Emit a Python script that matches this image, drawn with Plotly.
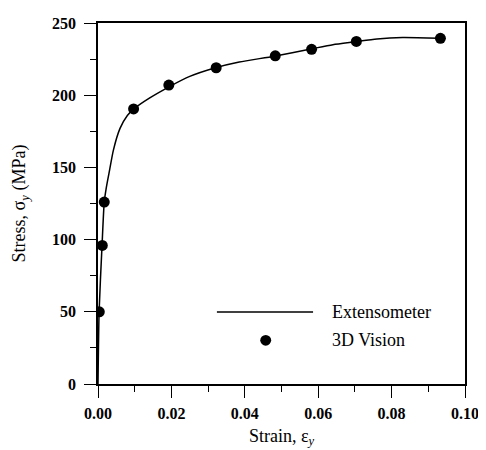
import plotly.graph_objects as go

# Extensometer curve
ext_strain = [0.0, 0.0003, 0.0011, 0.0017, 0.0022, 0.0030, 0.0042, 0.0060, 0.0080,
              0.0100, 0.0140, 0.0195, 0.0250, 0.0320, 0.0385, 0.0480, 0.0580,
              0.0640, 0.0700, 0.0760, 0.0830, 0.0930]
ext_stress = [0, 50, 96, 126, 135, 146, 162, 177, 186,
              191, 198, 206, 213, 219, 223, 227, 232,
              235, 237, 239, 240, 239.5]

# 3D Vision points
vis_strain = [0.00035, 0.00117, 0.0017, 0.0097, 0.0193, 0.0322, 0.0483, 0.0582, 0.0704, 0.0933]
vis_stress = [50, 96, 126, 190.5, 207, 219, 227.3, 231.8, 237.2, 239.4]

x_ticks = [0.00, 0.02, 0.04, 0.06, 0.08, 0.10]
x_ticklabels = ["0.00", "0.02", "0.04", "0.06", "0.08", "0.10"]
y_ticks = [0, 50, 100, 150, 200, 250]
y_ticklabels = ["0", "50", "100", "150", "200", "250"]

SERIF = "Liberation Serif, Times New Roman, serif"

fig = go.Figure()
fig.add_trace(go.Scatter(x=ext_strain, y=ext_stress, mode="lines", name="Extensometer",
                         line=dict(color="black", width=1.5, shape="spline", smoothing=0.6),
                         showlegend=False))
fig.add_trace(go.Scatter(x=vis_strain, y=vis_stress, mode="markers", name="3D Vision",
                         marker=dict(color="black", size=11, symbol="circle"),
                         showlegend=False))

axis_common = dict(showline=True, linecolor="black", linewidth=1.5, mirror=True,
                   ticks="outside", ticklen=12, tickwidth=1.2, tickcolor="black",
                   showgrid=False, zeroline=False,
                   tickfont=dict(family=SERIF, size=16, color="black", weight="bold"))

fig.update_xaxes(range=[0, 0.10], tickvals=x_ticks, ticktext=x_ticklabels,
                 ticklabelstandoff=2,
                 minor=dict(dtick=0.01, ticks="outside", ticklen=6, tickcolor="black", tickwidth=1.2),
                 title=dict(text="Strain, ε<sub><i>y</i></sub>",
                            font=dict(family=SERIF, size=18, color="black"), standoff=8),
                 **axis_common)
fig.update_yaxes(range=[0, 250], tickvals=y_ticks, ticktext=y_ticklabels,
                 ticklabelstandoff=5,
                 minor=dict(dtick=25, ticks="outside", ticklen=6, tickcolor="black", tickwidth=1.2),
                 title=dict(text="Stress, σ<sub><i>y</i></sub> (MPa)",
                            font=dict(family=SERIF, size=18, color="black"), standoff=22),
                 **axis_common)

# Manual legend
fig.add_shape(type="line", xref="paper", yref="paper", x0=0.324, x1=0.586, y0=0.1995, y1=0.1995,
              line=dict(color="black", width=1.5))
fig.add_shape(type="circle", xref="paper", yref="paper", x0=0.457 - 0.0149, x1=0.457 + 0.0149,
              y0=0.121 - 0.0148, y1=0.121 + 0.0148, fillcolor="black", line=dict(color="black", width=0))
fig.add_annotation(xref="paper", yref="paper", x=0.632, y=0.1995, text="Extensometer",
                   showarrow=False, xanchor="left", yanchor="middle",
                   font=dict(family=SERIF, size=18, color="black"))
fig.add_annotation(xref="paper", yref="paper", x=0.632, y=0.121, text="3D Vision",
                   showarrow=False, xanchor="left", yanchor="middle",
                   font=dict(family=SERIF, size=18, color="black"))

fig.update_layout(width=478, height=442, margin=dict(l=90, r=18, t=7, b=65),
                  paper_bgcolor="white", plot_bgcolor="white", showlegend=False)

fig.write_html("out.html")
